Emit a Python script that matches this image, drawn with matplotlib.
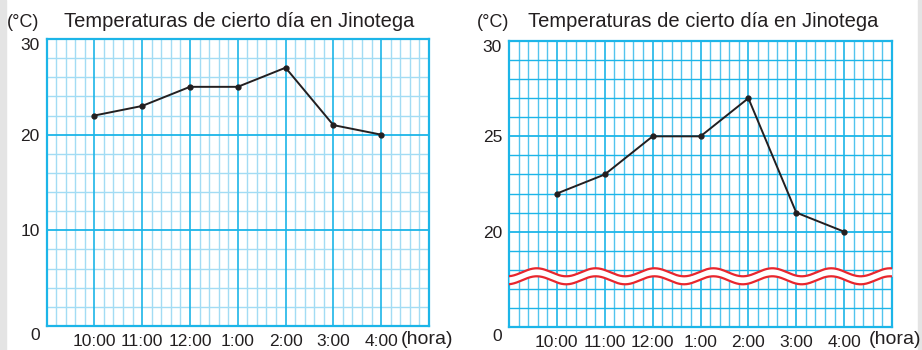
import matplotlib.pyplot as plt
import numpy as np
from matplotlib.patches import Rectangle
from matplotlib.transforms import ScaledTranslation

plt.rcParams['font.family'] = ['Liberation Sans', 'DejaVu Sans']

# datos
horas = ['10:00', '11:00', '12:00', '1:00', '2:00', '3:00', '4:00']
temperaturas = [22, 23, 25, 25, 27, 21, 20]
titulo = 'Temperaturas de cierto día en Jinotega'

TXT = '#231f20'
MAJOR = '#1cb5e8'
MINOR = '#a3dcf4'
MINOR_R = '#52c4ee'
RED = '#e8262d'

W, H = 922, 350
fig = plt.figure(figsize=(W / 100, H / 100), dpi=100)


def px_axes(x0, y0, x1, y1):
    # caja en pixeles (arriba-izquierda) -> fraccion de figura
    return fig.add_axes([x0 / W, 1 - y1 / H, (x1 - x0) / W, (y1 - y0) / H])


def grid(ax, xmin, xmax, xs, ys_minor, ys_major, minor_c, hlc):
    for x in np.arange(xmin, xmax + 1e-9, 0.2):
        if abs(x - round(x)) < 1e-6:
            continue
        ax.axvline(x, color=minor_c, lw=1.0, zorder=1)
    for x in xs:
        ax.axvline(x, color=MAJOR, lw=1.2, zorder=2)
    for y in ys_minor:
        ax.axhline(y, color=hlc, lw=1.0, zorder=1)
    for y in ys_major:
        ax.axhline(y, color=MAJOR, lw=1.3, zorder=2)
    for s in ax.spines.values():
        s.set_color(MAJOR)
        s.set_linewidth(1.6)


def style_ticks(ax, yt, ylabels):
    x = np.arange(len(horas))
    ax.set_xticks(x, horas)
    ax.set_yticks(yt, ylabels)
    ax.tick_params(length=0, labelsize=12.5, colors=TXT, pad=5)
    ax.tick_params(axis='x', pad=6)
    labs = ax.get_yticklabels()
    labs[0].set_transform(labs[0].get_transform() + ScaledTranslation(0, -0.08, fig.dpi_scale_trans))
    labs[-1].set_transform(labs[-1].get_transform() + ScaledTranslation(0, -0.05, fig.dpi_scale_trans))


# panel izquierdo
ax1 = px_axes(46.5, 39, 429, 326)
ax1.set_xlim(-1, 7)
ax1.set_ylim(0, 30)
grid(ax1, -1, 7, range(0, 7), [2, 4, 6, 8, 12, 14, 16, 18, 22, 24, 26, 28], [10, 20], MINOR, MINOR)
ax1.plot(range(len(horas)), temperaturas, color=TXT, lw=1.4, marker='o', ms=3.5, zorder=5)
style_ticks(ax1, [0, 10, 20, 30], ['0', '10', '20', '30'])

# panel derecho (eje cortado)
ax2 = px_axes(509, 41, 892, 327)
ax2.set_xlim(-1, 7)
ax2.set_ylim(15, 30)
grid(ax2, -1, 7, range(0, 7), [y for y in range(16, 30) if y not in (20, 25)], [20, 25], MINOR_R, MAJOR)
ax2.plot(range(len(horas)), temperaturas, color=TXT, lw=1.4, marker='o', ms=3.5, zorder=5)
style_ticks(ax2, [15, 20, 25, 30], ['0', '20', '25', '30'])

# simbolo de corte
xw = np.linspace(-1, 7, 600)
ola = 0.21 * np.cos(2 * np.pi * (xw + 0.42) / 1.23)
ax2.fill_between(xw, 17.45 + ola, 17.87 + ola, color='white', zorder=3, lw=0)
ax2.plot(xw, 17.87 + ola, color=RED, lw=1.6, zorder=4)
ax2.plot(xw, 17.45 + ola, color=RED, lw=1.6, zorder=4)

# textos
for x_c, x_t, x_h in [(7, 64, 401), (477, 528, 869)]:
    fig.text(x_c / W, 1 - 27 / H, '(°C)', fontsize=13, color=TXT, va='baseline')
    fig.text(x_t / W, 1 - 27 / H, titulo, fontsize=14.5, color=TXT, va='baseline')
    fig.text(x_h / W, 1 - 340 / H, '(hora)', fontsize=14, color=TXT, va='center')

# borde gris de la pagina
fig.patches.append(Rectangle((0, 0), 6 / W, 1, transform=fig.transFigure, color='#e4e4e4', zorder=0))
fig.patches.append(Rectangle((918 / W, 0), 4 / W, 1, transform=fig.transFigure, color='#e4e4e4', zorder=0))

fig.savefig('out.png', dpi=100)
